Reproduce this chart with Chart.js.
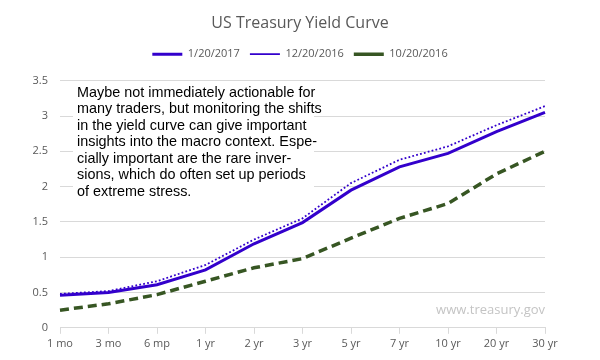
<!DOCTYPE html>
<html>
<head>
<meta charset="utf-8">
<script src="https://cdn.jsdelivr.net/npm/chart.js@4.4.1/dist/chart.umd.min.js"></script>
<style>
html,body{margin:0;padding:0;background:#fff;}
#wrap{width:600px;height:360px;position:relative;}
</style>
</head>
<body>
<div id="wrap"><canvas id="c" width="600" height="360"></canvas></div>
<script>
const categories = ['1 mo','3 mo','6 mp','1 yr','2 yr','3 yr','5 yr','7 yr','10 yr','20 yr','30 yr'];
const jan2017 = [0.46,0.50,0.61,0.82,1.19,1.49,1.95,2.28,2.47,2.78,3.05];
const dec2016 = [0.48,0.52,0.66,0.89,1.25,1.55,2.05,2.38,2.57,2.87,3.14];
const oct2016 = [0.25,0.34,0.47,0.66,0.85,0.98,1.27,1.55,1.76,2.18,2.50];
const seriesNames = ['1/20/2017','12/20/2016','10/20/2016'];
const noteLines = [
  'Maybe not immediately actionable for',
  'many traders, but monitoring the shifts',
  'in the yield curve can give important',
  'insights into the macro context. Espe-',
  'cially important are the rare inver-',
  'sions, which do often set up periods',
  'of extreme stress.'
];
const watermark = 'www.treasury.gov';

const overlay = {
  id: 'overlay',
  beforeLayout(chart) {
    const lg = chart.legend;
    if (lg && !lg._patched) {
      const orig = lg.fit;
      lg.fit = function () { orig.call(this); this.height += 11; };
      lg._patched = true;
    }
  },
  afterDraw(chart) {
    const ctx = chart.ctx;
    const ca = chart.chartArea;
    ctx.save();
    ctx.fillStyle = '#ffffff';
    ctx.fillRect(73, 82, 241, 126);
    ctx.fillStyle = '#000000';
    ctx.font = '14.4px "Liberation Sans", Arial, sans-serif';
    ctx.textBaseline = 'middle';
    ctx.textAlign = 'left';
    noteLines.forEach((t, i) => ctx.fillText(t, 77, 93 + i * 16.5));
    ctx.fillStyle = '#c4c4c4';
    ctx.font = '13px "Open Sans", sans-serif';
    ctx.textAlign = 'right';
    ctx.fillText(watermark, ca.right, 310);
    ctx.restore();
  }
};

new Chart(document.getElementById('c'), {
  type: 'line',
  data: {
    labels: categories,
    datasets: [
      { label: seriesNames[0], data: jan2017, borderColor: '#3300cc', backgroundColor: '#3300cc', borderWidth: 3, pointRadius: 0, tension: 0 },
      { label: seriesNames[1], data: dec2016, borderColor: '#3300cc', backgroundColor: '#3300cc', borderWidth: 1.8, borderDash: [1.8, 2.2], pointRadius: 0, tension: 0 },
      { label: seriesNames[2], data: oct2016, borderColor: '#375623', backgroundColor: '#375623', borderWidth: 3.5, borderDash: [9, 5], pointRadius: 0, tension: 0 }
    ]
  },
  options: {
    responsive: false,
    animation: false,
    layout: { padding: { left: 0, right: 0, top: 4, bottom: 7 } },
    plugins: {
      title: { display: true, text: 'US Treasury Yield Curve', color: '#595959', font: { family: '"Open Sans", sans-serif', size: 16, weight: 'normal' }, padding: { top: 9.5, bottom: 6 } },
      legend: {
        position: 'top',
        labels: { usePointStyle: true, pointStyle: 'line', pointStyleWidth: 30, boxHeight: 11, color: '#595959', font: { family: '"Open Sans", sans-serif', size: 11 }, padding: 10 }
      },
      tooltip: { enabled: false }
    },
    scales: {
      x: {
        offset: false,
        grid: { display: true, drawOnChartArea: false, drawTicks: true, tickLength: 6, color: '#d9d9d9' },
        border: { display: true, color: '#d9d9d9' },
        ticks: { color: '#595959', font: { family: '"Open Sans", sans-serif', size: 11 }, padding: 3, maxRotation: 0, autoSkip: false }
      },
      y: {
        min: 0, max: 3.5,
        afterFit(s) { s.width = 60; },
        grid: { color: '#d9d9d9', drawTicks: false },
        border: { display: false },
        ticks: { stepSize: 0.5, color: '#595959', font: { family: '"Open Sans", sans-serif', size: 11 }, padding: 12, callback: v => String(v) }
      },
      yR: {
        position: 'right',
        min: 0, max: 3.5,
        afterFit(s) { s.width = 55; },
        grid: { display: false },
        border: { display: false },
        ticks: { display: false }
      }
    }
  },
  plugins: [overlay]
});
</script>
</body>
</html>
